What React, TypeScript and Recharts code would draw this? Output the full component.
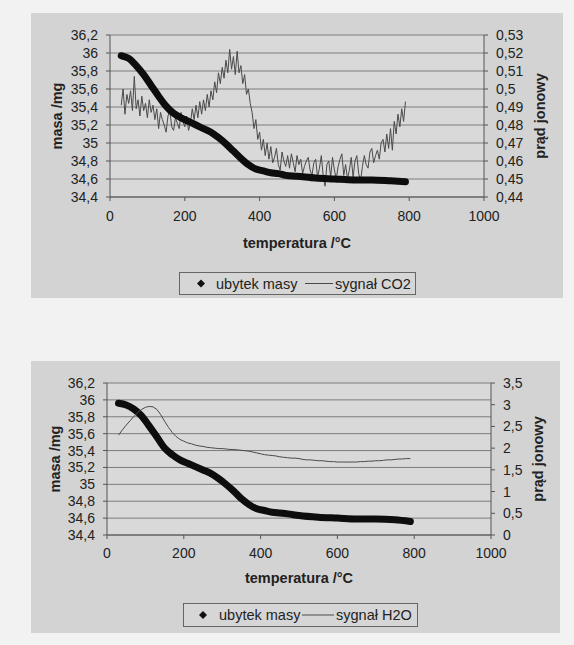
import { LineChart, Line, XAxis, YAxis, CartesianGrid } from "recharts";

// temperature axis / left axis ticks
const tempTicks = [0, 200, 400, 600, 800, 1000];
const massTicks = [34.4, 34.6, 34.8, 35, 35.2, 35.4, 35.6, 35.8, 36, 36.2];
const co2Ticks = [0.44, 0.45, 0.46, 0.47, 0.48, 0.49, 0.5, 0.51, 0.52, 0.53];
const h2oTicks = [0, 0.5, 1, 1.5, 2, 2.5, 3, 3.5];

// ubytek masy (mg)
const massTemps = [
  30, 50, 70, 90, 110, 130, 150, 170, 190, 210, 230, 250, 270, 290, 310,
  330, 350, 370, 390, 410, 430, 450, 470, 500, 550, 600, 650, 700, 750, 790,
];
const massTop = [
  35.97, 35.94, 35.86, 35.76, 35.64, 35.52, 35.41, 35.33, 35.28, 35.24,
  35.2, 35.16, 35.12, 35.06, 34.99, 34.91, 34.83, 34.76, 34.71, 34.69,
  34.67, 34.66, 34.64, 34.63, 34.61, 34.6, 34.59, 34.59, 34.58, 34.57,
];
const massBottom = [
  35.96, 35.94, 35.89, 35.81, 35.69, 35.56, 35.43, 35.35, 35.29, 35.25,
  35.21, 35.17, 35.13, 35.07, 35.0, 34.92, 34.83, 34.76, 34.71, 34.69,
  34.67, 34.66, 34.65, 34.63, 34.61, 34.6, 34.59, 34.59, 34.58, 34.56,
];

// sygnał CO2 (prąd jonowy)
const co2Temps = [
  30, 35, 40, 45, 50, 55, 60, 65, 70, 75, 80, 85, 90, 95, 100, 105, 110, 115, 120, 125,
  130, 135, 140, 145, 150, 155, 160, 165, 170, 175, 180, 185, 190, 195, 200, 205, 210, 215, 220, 225,
  230, 235, 240, 245, 250, 255, 260, 265, 270, 275, 280, 285, 290, 295, 300, 305, 310, 315, 320, 325,
  330, 335, 340, 345, 350, 355, 360, 365, 370, 375, 380, 385, 390, 395, 400, 405, 410, 415, 420, 425,
  430, 435, 440, 445, 450, 455, 460, 465, 470, 475, 480, 485, 490, 495, 500, 505, 510, 515, 520, 525,
  530, 535, 540, 545, 550, 555, 560, 565, 570, 575, 580, 585, 590, 595, 600, 605, 610, 615, 620, 625,
  630, 635, 640, 645, 650, 655, 660, 665, 670, 675, 680, 685, 690, 695, 700, 705, 710, 715, 720, 725,
  730, 735, 740, 745, 750, 755, 760, 765, 770, 775, 780, 785, 790,
];
const co2Values = [
  0.491, 0.5, 0.486, 0.497, 0.492, 0.499, 0.488, 0.507, 0.489, 0.494, 0.485, 0.496, 0.488, 0.492, 0.484, 0.494, 0.487, 0.491, 0.483, 0.489,
  0.478, 0.487, 0.483, 0.48, 0.476, 0.485, 0.488, 0.479, 0.477, 0.484, 0.481, 0.478, 0.487, 0.482, 0.479, 0.485, 0.477, 0.481, 0.489, 0.483,
  0.491, 0.484, 0.493, 0.486, 0.494, 0.488, 0.497, 0.49, 0.499, 0.494, 0.504, 0.498, 0.509, 0.503, 0.512, 0.506, 0.516, 0.509, 0.522, 0.511,
  0.518, 0.508, 0.521, 0.509, 0.513, 0.503, 0.508, 0.497, 0.5, 0.492, 0.487, 0.478, 0.483, 0.472, 0.476, 0.466, 0.472, 0.463, 0.47, 0.461,
  0.468, 0.459, 0.462, 0.467, 0.458, 0.455, 0.465, 0.46, 0.457, 0.463, 0.456, 0.464, 0.459, 0.454, 0.463, 0.458, 0.461, 0.453, 0.457, 0.46,
  0.462, 0.455, 0.452, 0.459, 0.461, 0.451, 0.456, 0.463, 0.452, 0.446, 0.458, 0.46, 0.451, 0.462, 0.455, 0.45, 0.457, 0.461, 0.464, 0.452,
  0.458, 0.45, 0.455, 0.462, 0.451, 0.46, 0.463, 0.453, 0.449, 0.457, 0.463, 0.458, 0.456, 0.465, 0.467, 0.459, 0.463, 0.466, 0.461, 0.47,
  0.472, 0.465, 0.475, 0.467, 0.478, 0.466, 0.482, 0.475, 0.486, 0.479, 0.489, 0.482, 0.493,
];

// sygnał H2O (prąd jonowy)
const h2oTemps = [
  30, 40, 50, 60, 70, 80, 90, 100, 110, 120,
  130, 140, 150, 160, 170, 180, 190, 200, 210, 220,
  230, 240, 250, 260, 270, 280, 290, 300, 310, 320,
  330, 340, 350, 360, 370, 380, 390, 400, 410, 420,
  430, 440, 450, 460, 470, 480, 490, 500, 510, 520,
  530, 540, 550, 560, 570, 580, 590, 600, 610, 620,
  630, 640, 650, 660, 670, 680, 690, 700, 710, 720,
  730, 740, 750, 760, 770, 780, 790,
];
const h2oValues = [
  2.3, 2.42, 2.53, 2.63, 2.73, 2.82, 2.89, 2.94, 2.96, 2.95,
  2.89, 2.77, 2.62, 2.48, 2.36, 2.27, 2.2, 2.16, 2.12, 2.1,
  2.07, 2.05, 2.04, 2.02, 2.01, 2.0, 1.99, 1.99, 1.98, 1.97,
  1.97, 1.96, 1.95, 1.94, 1.93, 1.91, 1.89, 1.87, 1.85, 1.84,
  1.83, 1.82, 1.8, 1.79, 1.78, 1.77, 1.77, 1.76, 1.74, 1.73,
  1.73, 1.72, 1.71, 1.71, 1.7, 1.69, 1.69, 1.68, 1.68, 1.68,
  1.68, 1.68, 1.68, 1.69, 1.69, 1.7, 1.7, 1.71, 1.71, 1.72,
  1.73, 1.73, 1.74, 1.75, 1.75, 1.76, 1.76,
];

const FONT = '"Liberation Sans", Arial, sans-serif';
const PAGE = "#f2f2f2";
const PANEL = "#d3d3d3";
const PLOT = "#d9d9d9";
const GRID = "#7c7c7c";
const AXIS = "#555";
const INK = "#222";

const pairs = (ts: number[], vs: number[]) => ts.map((t, i) => ({ t, v: vs[i] }));
const comma = (v: number) => String(+v.toFixed(2)).replace(".", ",");

const tickStyle = { fontSize: 14, fill: INK, fontFamily: FONT };

function ThermoPanel(props: any) {
  const { box, plot, mass, signal, signalName, rightDomain, rightTicks, legend, titles, signalOnTop } = props;
  const leftW = plot.left - box.left;
  const rightW = box.left + box.width - plot.right;
  const xH = box.top + box.height - plot.bottom;

  const xTitle = ({ viewBox }: any) => (
    <text x={viewBox.x + viewBox.width / 2} y={viewBox.y + titles.x} textAnchor="middle"
      dominantBaseline="central" fontFamily={FONT} fontSize={14.5} fontWeight="bold" fill={INK}>
      temperatura /°C
    </text>
  );
  const vTitle = (text: string, dx: number) => ({ viewBox }: any) => {
    const cx = viewBox.x + dx;
    const cy = viewBox.y + viewBox.height / 2;
    return (
      <text x={cx} y={cy} transform={`rotate(-90 ${cx} ${cy})`} textAnchor="middle"
        dominantBaseline="central" fontFamily={FONT} fontSize={14.5} fontWeight="bold" fill={INK}>
        {text}
      </text>
    );
  };

  const signalLine = (
    <Line key="sig" yAxisId="right" data={signal} dataKey="v" type="linear" stroke="#4a4a4a"
      strokeWidth={1} dot={false} isAnimationActive={false} />
  );
  const massLine = (
    <Line key="mass" yAxisId="left" data={mass} dataKey="v" type="monotone" stroke="#0d0d0d"
      strokeWidth={7} strokeLinecap="round" dot={false} isAnimationActive={false} />
  );

  return (
    <div style={{ position: "absolute", left: box.left, top: box.top, width: box.width, height: box.height, background: PANEL }}>
      <LineChart width={box.width} height={box.height}
        margin={{ top: plot.top - box.top, right: 0, bottom: 0, left: 0 }}>
        <CartesianGrid yAxisId="left" vertical={false} stroke={GRID} fill={PLOT} />
        <XAxis type="number" dataKey="t" domain={[0, 1000]} ticks={tempTicks} interval={0}
          height={xH} tickSize={4} tickMargin={titles.tickGap} stroke={AXIS} tick={tickStyle}
          allowDataOverflow label={{ content: xTitle }} />
        <YAxis yAxisId="left" domain={[34.4, 36.2]} ticks={massTicks} interval={0} width={leftW}
          tickSize={4} tickMargin={8} stroke={AXIS} tick={tickStyle} tickFormatter={comma}
          allowDataOverflow label={{ content: vTitle("masa /mg", titles.left) }} />
        <YAxis yAxisId="right" orientation="right" domain={rightDomain} ticks={rightTicks} interval={0}
          width={rightW} tickSize={4} tickMargin={8} stroke={AXIS} tick={tickStyle} tickFormatter={comma}
          allowDataOverflow label={{ content: vTitle("prąd jonowy", titles.right) }} />
        {signalOnTop ? [massLine, signalLine] : [signalLine, massLine]}
      </LineChart>
      <div style={{
        position: "absolute", left: legend.left - box.left, top: legend.top - box.top,
        width: legend.width, height: legend.height, boxSizing: "border-box",
        border: "1px solid #666", background: "#d6d6d6",
      }}>
        <svg width={legend.width - 2} height={legend.height - 2} style={{ display: "block" }}>
          <polygon
            points={`${legend.dot},${legend.height / 2 - 5} ${legend.dot + 4},${legend.height / 2 - 1} ${legend.dot},${legend.height / 2 + 3} ${legend.dot - 4},${legend.height / 2 - 1}`}
            fill="#111" />
          <text x={legend.text1} y={legend.height / 2 - 1} dominantBaseline="central" fontFamily={FONT}
            fontSize={14.5} fill={INK}>ubytek masy</text>
          <line x1={legend.line[0]} x2={legend.line[1]} y1={legend.height / 2 - 1} y2={legend.height / 2 - 1}
            stroke="#4a4a4a" strokeWidth={1} />
          <text x={legend.text2} y={legend.height / 2 - 1} dominantBaseline="central" fontFamily={FONT}
            fontSize={14.5} fill={INK}>{signalName}</text>
        </svg>
      </div>
    </div>
  );
}

export default function App() {
  return (
    <div style={{ position: "absolute", left: 0, top: 0, width: 574, height: 645, background: PAGE, overflow: "hidden" }}>
      <ThermoPanel
        box={{ left: 31, top: 13, width: 532, height: 285 }}
        plot={{ left: 110, right: 484, top: 35, bottom: 197 }}
        mass={pairs(massTemps, massTop)}
        signal={pairs(co2Temps, co2Values)}
        signalName="sygnał CO2"
        rightDomain={[0.44, 0.53]}
        rightTicks={co2Ticks}
        titles={{ x: 46, left: 26, right: 56, tickGap: 10 }}
        legend={{ left: 179, top: 272, width: 237, height: 23, dot: 21, text1: 36, line: [125, 153], text2: 155 }}
        signalOnTop={false}
      />
      <ThermoPanel
        box={{ left: 31, top: 361, width: 529, height: 272 }}
        plot={{ left: 107, right: 491, top: 383, bottom: 535 }}
        mass={pairs(massTemps, massBottom)}
        signal={pairs(h2oTemps, h2oValues)}
        signalName="sygnał H2O"
        rightDomain={[0, 3.5]}
        rightTicks={h2oTicks}
        titles={{ x: 43, left: 24, right: 47, tickGap: 9 }}
        legend={{ left: 183, top: 603, width: 235, height: 24, dot: 19, text1: 35, line: [118, 150], text2: 152 }}
        signalOnTop={true}
      />
    </div>
  );
}
